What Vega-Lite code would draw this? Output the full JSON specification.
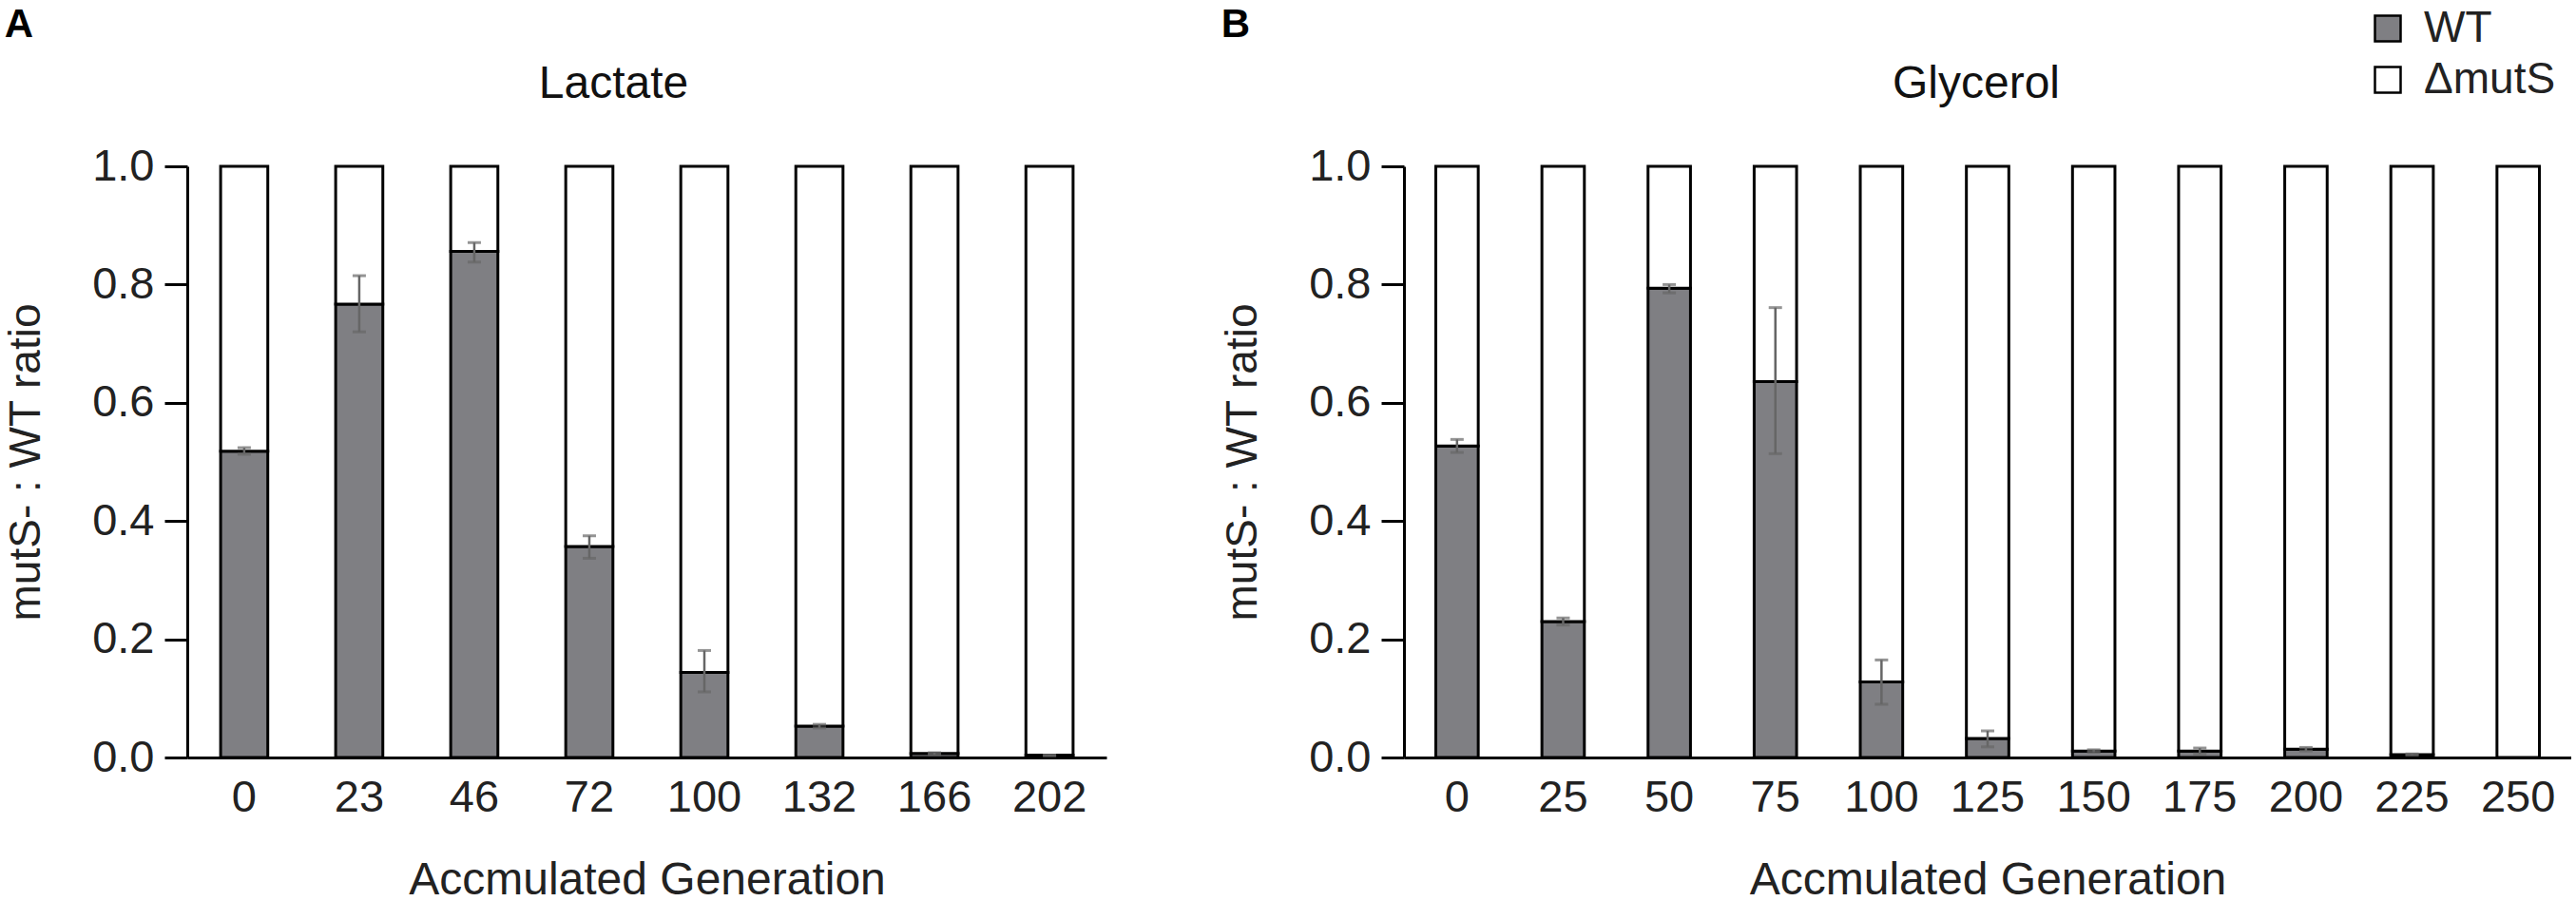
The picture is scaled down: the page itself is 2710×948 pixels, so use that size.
{
  "$schema": "https://vega.github.io/schema/vega-lite/v6.json",
  "background": "white",
  "padding": {"left": 4, "top": 5, "right": 0, "bottom": 0},
  "datasets": {
    "lactate": [
      {"gen": 0, "strain": "WT", "ratio": 0.518}, {"gen": 0, "strain": "ΔmutS", "ratio": 0.482},
      {"gen": 23, "strain": "WT", "ratio": 0.767}, {"gen": 23, "strain": "ΔmutS", "ratio": 0.233},
      {"gen": 46, "strain": "WT", "ratio": 0.856}, {"gen": 46, "strain": "ΔmutS", "ratio": 0.144},
      {"gen": 72, "strain": "WT", "ratio": 0.357}, {"gen": 72, "strain": "ΔmutS", "ratio": 0.643},
      {"gen": 100, "strain": "WT", "ratio": 0.144}, {"gen": 100, "strain": "ΔmutS", "ratio": 0.856},
      {"gen": 132, "strain": "WT", "ratio": 0.053}, {"gen": 132, "strain": "ΔmutS", "ratio": 0.947},
      {"gen": 166, "strain": "WT", "ratio": 0.007}, {"gen": 166, "strain": "ΔmutS", "ratio": 0.993},
      {"gen": 202, "strain": "WT", "ratio": 0.004}, {"gen": 202, "strain": "ΔmutS", "ratio": 0.996}
    ],
    "lactateErr": [
      {"gen": 0, "lo": 0.513, "hi": 0.524},
      {"gen": 23, "lo": 0.72, "hi": 0.815},
      {"gen": 46, "lo": 0.838, "hi": 0.871},
      {"gen": 72, "lo": 0.337, "hi": 0.375},
      {"gen": 100, "lo": 0.111, "hi": 0.181},
      {"gen": 132, "lo": 0.05, "hi": 0.056},
      {"gen": 166, "lo": 0.005, "hi": 0.008},
      {"gen": 202, "lo": 0.003, "hi": 0.004}
    ],
    "glycerol": [
      {"gen": 0, "strain": "WT", "ratio": 0.527}, {"gen": 0, "strain": "ΔmutS", "ratio": 0.473},
      {"gen": 25, "strain": "WT", "ratio": 0.23}, {"gen": 25, "strain": "ΔmutS", "ratio": 0.77},
      {"gen": 50, "strain": "WT", "ratio": 0.794}, {"gen": 50, "strain": "ΔmutS", "ratio": 0.206},
      {"gen": 75, "strain": "WT", "ratio": 0.636}, {"gen": 75, "strain": "ΔmutS", "ratio": 0.364},
      {"gen": 100, "strain": "WT", "ratio": 0.128}, {"gen": 100, "strain": "ΔmutS", "ratio": 0.872},
      {"gen": 125, "strain": "WT", "ratio": 0.032}, {"gen": 125, "strain": "ΔmutS", "ratio": 0.968},
      {"gen": 150, "strain": "WT", "ratio": 0.011}, {"gen": 150, "strain": "ΔmutS", "ratio": 0.989},
      {"gen": 175, "strain": "WT", "ratio": 0.011}, {"gen": 175, "strain": "ΔmutS", "ratio": 0.989},
      {"gen": 200, "strain": "WT", "ratio": 0.014}, {"gen": 200, "strain": "ΔmutS", "ratio": 0.986},
      {"gen": 225, "strain": "WT", "ratio": 0.005}, {"gen": 225, "strain": "ΔmutS", "ratio": 0.995},
      {"gen": 250, "strain": "WT", "ratio": 0.0}, {"gen": 250, "strain": "ΔmutS", "ratio": 1.0}
    ],
    "glycerolErr": [
      {"gen": 0, "lo": 0.516, "hi": 0.538},
      {"gen": 25, "lo": 0.224, "hi": 0.236},
      {"gen": 50, "lo": 0.786, "hi": 0.8},
      {"gen": 75, "lo": 0.514, "hi": 0.761},
      {"gen": 100, "lo": 0.09, "hi": 0.165},
      {"gen": 125, "lo": 0.018, "hi": 0.045},
      {"gen": 150, "lo": 0.009, "hi": 0.013},
      {"gen": 175, "lo": 0.006, "hi": 0.016},
      {"gen": 200, "lo": 0.011, "hi": 0.017},
      {"gen": 225, "lo": 0.004, "hi": 0.006}
    ]
  },
  "hconcat": [
    {
      "title": {"text": "A", "anchor": "start", "frame": "bounds", "fontSize": 42, "fontWeight": "bold", "color": "black", "offset": 17},
      "vconcat": [
        {
          "title": {"text": "Lactate", "dx": -35},
          "width": 967,
          "height": 622,
          "encoding": {
            "x": {"field": "gen", "type": "ordinal", "title": "Accmulated Generation",
                  "scale": {"paddingInner": 0.59, "paddingOuter": 0.29}}
          },
          "layer": [
            {
              "data": {"name": "lactate"},
              "mark": {"type": "bar", "stroke": "black", "strokeWidth": 3},
              "encoding": {
                "y": {"field": "ratio", "type": "quantitative", "stack": "zero", "title": "mutS- : WT ratio",
                      "scale": {"domain": [0, 1], "nice": false},
                      "axis": {"values": [0, 0.2, 0.4, 0.6, 0.8, 1.0], "format": ".1f"}},
                "color": {"field": "strain", "type": "nominal",
                          "scale": {"domain": ["WT", "ΔmutS"], "range": ["#7f7f83", "white"]}},
                "order": {"field": "strain", "sort": "ascending"}
              }
            },
            {
              "data": {"name": "lactateErr"},
              "mark": {"type": "rule", "color": "#666666", "strokeWidth": 2.5},
              "encoding": {
                "y": {"field": "lo", "type": "quantitative", "title": "mutS- : WT ratio"},
                "y2": {"field": "hi"}
              }
            },
            {
              "data": {"name": "lactateErr"},
              "mark": {"type": "tick", "color": "#666666", "thickness": 3, "size": 14},
              "encoding": {"y": {"field": "lo", "type": "quantitative", "title": "mutS- : WT ratio"}}
            },
            {
              "data": {"name": "lactateErr"},
              "mark": {"type": "tick", "color": "#666666", "thickness": 3, "size": 14},
              "encoding": {"y": {"field": "hi", "type": "quantitative", "title": "mutS- : WT ratio"}}
            }
          ]
        }
      ]
    },
    {
      "title": {"text": "B", "anchor": "start", "frame": "bounds", "fontSize": 42, "fontWeight": "bold", "color": "black", "offset": 17},
      "vconcat": [
        {
          "title": {"text": "Glycerol", "dx": -12},
          "width": 1228,
          "height": 622,
          "encoding": {
            "x": {"field": "gen", "type": "ordinal", "title": "Accmulated Generation",
                  "scale": {"paddingInner": 0.6, "paddingOuter": 0.3}}
          },
          "layer": [
            {
              "data": {"name": "glycerol"},
              "mark": {"type": "bar", "stroke": "black", "strokeWidth": 3},
              "encoding": {
                "y": {"field": "ratio", "type": "quantitative", "stack": "zero", "title": "mutS- : WT ratio",
                      "scale": {"domain": [0, 1], "nice": false},
                      "axis": {"values": [0, 0.2, 0.4, 0.6, 0.8, 1.0], "format": ".1f"}},
                "color": {"field": "strain", "type": "nominal",
                          "scale": {"domain": ["WT", "ΔmutS"], "range": ["#7f7f83", "white"]}},
                "order": {"field": "strain", "sort": "ascending"}
              }
            },
            {
              "data": {"name": "glycerolErr"},
              "mark": {"type": "rule", "color": "#666666", "strokeWidth": 2.5},
              "encoding": {
                "y": {"field": "lo", "type": "quantitative", "title": "mutS- : WT ratio"},
                "y2": {"field": "hi"}
              }
            },
            {
              "data": {"name": "glycerolErr"},
              "mark": {"type": "tick", "color": "#666666", "thickness": 3, "size": 14},
              "encoding": {"y": {"field": "lo", "type": "quantitative", "title": "mutS- : WT ratio"}}
            },
            {
              "data": {"name": "glycerolErr"},
              "mark": {"type": "tick", "color": "#666666", "thickness": 3, "size": 14},
              "encoding": {"y": {"field": "hi", "type": "quantitative", "title": "mutS- : WT ratio"}}
            }
          ]
        }
      ]
    }
  ],
  "spacing": 120,
  "config": {
    "font": "Liberation Sans",
    "view": {"stroke": null},
    "axis": {
      "grid": false,
      "domainColor": "black",
      "domainWidth": 3,
      "tickColor": "black",
      "tickWidth": 3,
      "labelColor": "#222222",
      "titleColor": "#222222",
      "labelFontSize": 47,
      "titleFontSize": 48,
      "titleFontWeight": "normal"
    },
    "axisX": {"ticks": false, "tickSize": 0, "labelAngle": 0, "labelPadding": 19, "titlePadding": 40},
    "axisY": {"tickSize": 24, "labelPadding": 11, "titlePadding": 45, "titleFontSize": 46},
    "title": {"fontSize": 48, "fontWeight": "normal", "color": "#111111", "offset": 38},
    "legend": {
      "orient": "none",
      "legendX": 2292,
      "legendY": -168,
      "title": null,
      "padding": 0,
      "symbolType": "square",
      "symbolSize": 729,
      "symbolStrokeColor": "black",
      "symbolStrokeWidth": 2.5,
      "labelFontSize": 46,
      "labelColor": "#222222",
      "labelOffset": 15,
      "rowPadding": 8
    }
  }
}
